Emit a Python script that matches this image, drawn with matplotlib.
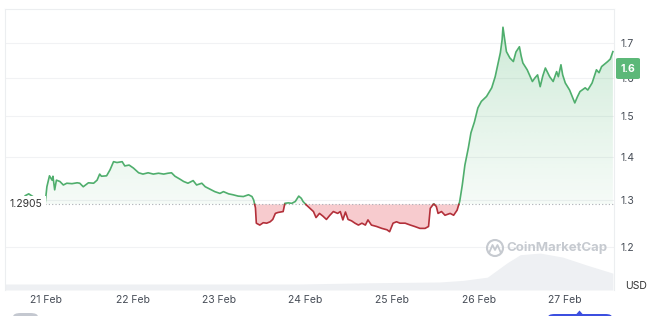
import numpy as np
import matplotlib
matplotlib.use("Agg")
import matplotlib.pyplot as plt
from matplotlib.path import Path
from matplotlib.patches import FancyBboxPatch, Ellipse, Polygon
from matplotlib.lines import Line2D
from matplotlib.ticker import NullLocator, NullFormatter
from matplotlib.transforms import blended_transform_factory

plt.rcParams['font.family'] = ['Inter', 'DejaVu Sans']

# price data (day of Feb, USD)
days = [20.76, 20.80, 20.84, 20.91, 20.97, 20.99, 21.01, 21.04, 21.07,
        21.08, 21.10, 21.12, 21.16, 21.20, 21.24, 21.30, 21.36, 21.39, 21.43,
        21.49, 21.55, 21.59, 21.62, 21.64, 21.70, 21.74, 21.78, 21.82, 21.88,
        21.91, 21.96, 22.01, 22.07, 22.12, 22.18, 22.24, 22.30, 22.36, 22.41,
        22.45, 22.49, 22.55, 22.59, 22.64, 22.70, 22.74, 22.80, 22.84, 22.90,
        22.95, 23.01, 23.05, 23.11, 23.16, 23.22, 23.28, 23.34, 23.38, 23.40,
        23.42, 23.43, 23.47, 23.51, 23.55, 23.59, 23.62, 23.65, 23.68, 23.74,
        23.76, 23.80, 23.84, 23.88, 23.92, 23.95, 23.97, 24.01, 24.05, 24.09,
        24.12, 24.16, 24.20, 24.24, 24.28, 24.32, 24.37, 24.40, 24.43, 24.46,
        24.49, 24.53, 24.57, 24.61, 24.65, 24.69, 24.72, 24.76, 24.82, 24.88,
        24.94, 24.97, 25.01, 25.05, 25.09, 25.15, 25.21, 25.26, 25.32, 25.38,
        25.42, 25.44, 25.48, 25.51, 25.53, 25.57, 25.61, 25.67, 25.71, 25.75,
        25.78, 25.81, 25.84, 25.88, 25.91, 25.95, 25.99, 26.03, 26.09, 26.15,
        26.19, 26.22, 26.25, 26.27, 26.28, 26.30, 26.32, 26.36, 26.40, 26.43,
        26.47, 26.49, 26.51, 26.56, 26.62, 26.65, 26.68, 26.71, 26.74, 26.77,
        26.82, 26.86, 26.90, 26.92, 26.95, 26.97, 27.00, 27.05, 27.11, 27.14,
        27.17, 27.23, 27.26, 27.31, 27.33, 27.36, 27.39, 27.42, 27.46, 27.49,
        27.52, 27.55]
prices = [1.310, 1.314, 1.309, 1.300, 1.291, 1.293, 1.330, 1.355, 1.345,
          1.354, 1.323, 1.345, 1.342, 1.334, 1.338, 1.337, 1.339, 1.338, 1.330,
          1.339, 1.338, 1.345, 1.359, 1.354, 1.355, 1.369, 1.388, 1.386, 1.388,
          1.378, 1.380, 1.373, 1.362, 1.359, 1.362, 1.359, 1.361, 1.359, 1.361,
          1.362, 1.354, 1.347, 1.342, 1.338, 1.344, 1.334, 1.338, 1.330, 1.324,
          1.319, 1.315, 1.319, 1.314, 1.312, 1.309, 1.308, 1.312, 1.308, 1.300,
          1.283, 1.250, 1.246, 1.251, 1.250, 1.253, 1.258, 1.271, 1.273, 1.275,
          1.293, 1.294, 1.293, 1.297, 1.309, 1.304, 1.297, 1.289, 1.282, 1.275,
          1.262, 1.271, 1.265, 1.258, 1.267, 1.275, 1.271, 1.275, 1.257, 1.274,
          1.258, 1.255, 1.250, 1.246, 1.250, 1.246, 1.257, 1.246, 1.243, 1.239,
          1.236, 1.232, 1.250, 1.253, 1.250, 1.250, 1.246, 1.243, 1.239, 1.239,
          1.243, 1.282, 1.292, 1.286, 1.271, 1.275, 1.267, 1.271, 1.267, 1.278,
          1.297, 1.334, 1.380, 1.421, 1.458, 1.485, 1.521, 1.538, 1.551, 1.574,
          1.604, 1.637, 1.671, 1.708, 1.745, 1.708, 1.674, 1.656, 1.646, 1.673,
          1.688, 1.662, 1.642, 1.623, 1.591, 1.601, 1.609, 1.577, 1.606, 1.628,
          1.604, 1.591, 1.618, 1.604, 1.637, 1.609, 1.587, 1.568, 1.534, 1.550,
          1.564, 1.574, 1.568, 1.587, 1.601, 1.623, 1.615, 1.632, 1.640, 1.646,
          1.653, 1.674]
open_price = 1.2905
last_label = '1.6'

# volume (arbitrary units)
vol_days = [20.53, 21.62, 22.78, 23.93, 24.74, 25.55, 25.82, 26.10, 26.33, 26.48,
            26.71, 26.97, 27.25, 27.55]
vol = [15, 15, 15, 15, 18, 20, 24, 32, 68, 88, 92, 82, 62, 42]

date_ticks = [21, 22, 23, 24, 25, 26, 27]
date_labels = ['21 Feb', '22 Feb', '23 Feb', '24 Feb', '25 Feb', '26 Feb', '27 Feb']
price_ticks = [1.2, 1.3, 1.4, 1.5, 1.6, 1.7]

green = '#4fae6d'
red = '#b3303a'

# add crossing points so the colour switch happens right on the open line
t = [days[0]]
p = [prices[0]]
for i in range(1, len(days)):
    a, b = prices[i - 1] - open_price, prices[i] - open_price
    if a * b < 0:
        f = a / (a - b)
        t.append(days[i - 1] + f * (days[i] - days[i - 1]))
        p.append(open_price)
    t.append(days[i])
    p.append(prices[i])
t = np.array(t)
p = np.array(p)

W, H = 658, 316
fig = plt.figure(figsize=(W / 100, H / 100), dpi=100)
rect = [5 / W, 26 / H, 609 / W, 281 / H]
xlim = (20.526, 27.563)

axv = fig.add_axes(rect, zorder=1)
axv.fill_between(vol_days, vol, color='#eef0f3', lw=0)
axv.set_xlim(xlim)
axv.set_ylim(0, 700)
axv.axis('off')

ax = fig.add_axes(rect, zorder=2)
ax.set_facecolor('none')
ax.set_yscale('log')
ax.set_xlim(xlim)
ax.set_ylim(1.1156, 1.80)

# green gradient fill above the open price
poly = ax.fill_between(t, p, open_price, where=p >= open_price, color='none', lw=0)
clip = Path.make_compound_path(*poly.get_paths())
grad = np.zeros((100, 1, 4))
grad[:, 0, :3] = matplotlib.colors.to_rgb('#3fae64')
grad[:, 0, 3] = np.linspace(0.05, 0.26, 100)
im = ax.imshow(grad, extent=[xlim[0], xlim[1], open_price, 1.75], origin='lower',
               aspect='auto', interpolation='bilinear', zorder=1)
im.set_clip_path(clip, ax.transData)

ax.fill_between(t, p, open_price, where=p <= open_price, color='#e5454f',
                alpha=0.28, lw=0, zorder=1)

ax.plot(t, np.where(p >= open_price, p, np.nan), color=green, lw=1.2, zorder=3)
ax.plot(t, np.where(p <= open_price, p, np.nan), color=red, lw=1.2, zorder=3)

ax.axhline(open_price, color='#a9adb3', lw=0.8, ls=(0, (1, 2)), zorder=2)
trans = blended_transform_factory(ax.transAxes, ax.transData)
ax.text(0.035, open_price, '1.2905', transform=trans, ha='center', va='center',
        fontsize=7.5, color='#333333', zorder=4,
        bbox=dict(boxstyle='square,pad=0.35', fc='white', ec='none'))

ax.set_yticks(price_ticks)
ax.set_yticklabels([str(v) for v in price_ticks])
ax.yaxis.set_minor_locator(NullLocator())
ax.yaxis.set_minor_formatter(NullFormatter())
ax.yaxis.tick_right()
ax.tick_params(axis='y', length=0, pad=4.5, labelsize=7.5, labelcolor='#474d57')
ax.set_xticks(date_ticks)
ax.set_xticklabels(date_labels)
ax.tick_params(axis='x', length=0, pad=3.5, labelsize=7.5, labelcolor='#474d57')
ax.grid(axis='y', color='#f1f2f4', lw=0.8)
ax.set_axisbelow(True)
for s in ['top', 'left', 'right']:
    ax.spines[s].set_color('#eceef0')
    ax.spines[s].set_linewidth(0.8)
ax.spines['bottom'].set_visible(False)

# current price tag
fig.add_artist(FancyBboxPatch((616 / W, 1 - 79 / H), 24 / W, 21 / H,
                              boxstyle='round,pad=0,rounding_size=0.004',
                              fc='#5cb878', ec='none', transform=fig.transFigure, zorder=5))
fig.text(628 / W, 1 - 68.5 / H, last_label, color='white', fontsize=7.5,
         fontweight='bold', ha='center', va='center', zorder=6)
fig.text(636 / W, 1 - 286 / H, 'USD', color='#333333', fontsize=7.5, ha='center', va='center')

# watermark
wm = '#c6cad0'
fig.add_artist(Ellipse((495 / W, 1 - 248 / H), 16 / W, 16 / H, fill=False,
                       ec=wm, lw=1.5, transform=fig.transFigure, zorder=5))
mx = np.array([489.5, 492.5, 495, 497.5, 500.5]) / W
my = 1 - np.array([252, 245, 250, 245, 252]) / H
fig.add_artist(Line2D(mx, my, color=wm, lw=1.3, transform=fig.transFigure, zorder=5))
fig.text(557 / W, 1 - 248 / H, 'CoinMarketCap', color=wm, fontsize=9.5,
         fontweight='bold', ha='center', va='center', zorder=5)

# bits of the page ui cut off at the bottom
fig.add_artist(FancyBboxPatch((13 / W, -8 / H), 25 / W, 11 / H,
                              boxstyle='round,pad=0,rounding_size=0.012',
                              fc='#c4c8d0', ec='none', transform=fig.transFigure))
fig.add_artist(FancyBboxPatch((548 / W, -8 / H), 64 / W, 10 / H,
                              boxstyle='round,pad=0,rounding_size=0.01',
                              fc='#3c4fe0', ec='none', transform=fig.transFigure))
fig.add_artist(Polygon([[576 / W, 1 - 314.5 / H], [579.5 / W, 1 - 310.5 / H], [583 / W, 1 - 314.5 / H]],
                       closed=True, fc='#3c4fe0', ec='none', transform=fig.transFigure))

fig.savefig('out.png', dpi=100)
